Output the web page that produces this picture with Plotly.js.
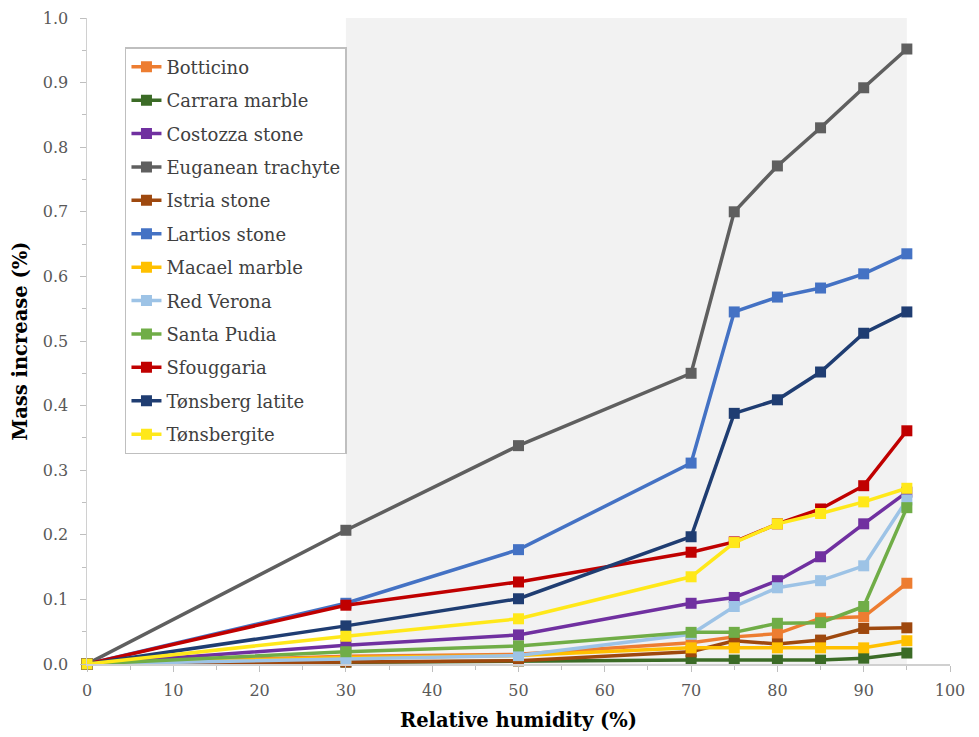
<!DOCTYPE html>
<html>
<head>
<meta charset="utf-8">
<script src="https://cdn.plot.ly/plotly-3.0.1.min.js"></script>
<style>html,body{margin:0;padding:0;background:#fff;}#chart{width:979px;height:737px;}</style>
</head>
<body>
<div id="chart"></div>
<script>
const humidity = [0, 30, 50, 70, 75, 80, 85, 90, 95];

const seriesNames = ["Botticino", "Carrara marble", "Costozza stone", "Euganean trachyte",
  "Istria stone", "Lartios stone", "Macael marble", "Red Verona", "Santa Pudia",
  "Sfouggaria", "Tønsberg latite", "Tønsbergite"];

const botticino  = [0, 0.012, 0.015, 0.033, 0.042, 0.047, 0.071, 0.073, 0.125];
const carrara    = [0, 0.003, 0.005, 0.006, 0.006, 0.006, 0.006, 0.009, 0.017];
const costozza   = [0, 0.029, 0.045, 0.094, 0.103, 0.129, 0.166, 0.217, 0.266];
const euganean   = [0, 0.207, 0.338, 0.450, 0.700, 0.771, 0.830, 0.892, 0.952];
const istria     = [0, 0.003, 0.005, 0.019, 0.036, 0.031, 0.037, 0.055, 0.056];
const lartios    = [0, 0.094, 0.177, 0.311, 0.545, 0.568, 0.582, 0.604, 0.635];
const macael     = [0, 0.010, 0.013, 0.025, 0.025, 0.025, 0.025, 0.025, 0.036];
const redVerona  = [0, 0.007, 0.013, 0.046, 0.089, 0.118, 0.129, 0.152, 0.254];
const santaPudia = [0, 0.019, 0.028, 0.049, 0.049, 0.063, 0.064, 0.089, 0.242];
const sfouggaria = [0, 0.091, 0.127, 0.173, 0.189, 0.217, 0.240, 0.276, 0.361];
const tonsbergLatite = [0, 0.059, 0.101, 0.197, 0.388, 0.409, 0.452, 0.512, 0.545];
const tonsbergite    = [0, 0.043, 0.070, 0.135, 0.188, 0.217, 0.233, 0.251, 0.272];

const seriesValues = [botticino, carrara, costozza, euganean, istria, lartios, macael,
  redVerona, santaPudia, sfouggaria, tonsbergLatite, tonsbergite];

const seriesColors = ["#ED7D31", "#3B6B26", "#7030A0", "#5F5F5F", "#9E480E", "#4472C4",
  "#FFC000", "#9DC3E6", "#70AD47", "#C00000", "#1F3D72", "#FFE81A"];

const xTicks = [0, 10, 20, 30, 40, 50, 60, 70, 80, 90, 100];
const yTicks = [0, 0.1, 0.2, 0.3, 0.4, 0.5, 0.6, 0.7, 0.8, 0.9, 1.0];
const yTickText = ["0.0","0.1","0.2","0.3","0.4","0.5","0.6","0.7","0.8","0.9","1.0"];
const shadeRange = [30, 95];

const traces = seriesNames.map((name, i) => ({
  type: "scatter",
  mode: "lines+markers",
  name: name,
  legendgroup: "g" + i,
  x: humidity,
  y: seriesValues[i],
  cliponaxis: false,
  line: {color: seriesColors[i], width: 3.5},
  marker: {symbol: "square", size: 11, color: seriesColors[i]}
}));

const serif = "DejaVu Serif";

const layout = {
  width: 979, height: 737,
  margin: {l: 87, r: 29, t: 18, b: 73},
  paper_bgcolor: "#ffffff",
  plot_bgcolor: "#ffffff",
  showlegend: true,
  legend: {
    x: 0.044, y: 0.955, xanchor: "left", yanchor: "top",
    bgcolor: "#ffffff", bordercolor: "#bfbfbf", borderwidth: 1.5,
    font: {family: serif, size: 18, color: "#404040"},
    tracegroupgap: 7,
    traceorder: "grouped"
  },
  shapes: [{
    type: "rect", layer: "below", xref: "x", yref: "paper",
    x0: shadeRange[0], x1: shadeRange[1], y0: 0, y1: 1,
    fillcolor: "#f2f2f2", line: {width: 0}
  }],
  xaxis: {
    range: [0, 100],
    tickvals: xTicks,
    ticktext: xTicks.map(String),
    ticks: "outside", ticklen: 6, tickcolor: "#bfbfbf", tickwidth: 1,
    minor: {dtick: 5, tick0: 0, ticks: "outside", ticklen: 4, tickcolor: "#bfbfbf", showgrid: false},
    showgrid: false, zeroline: false,
    showline: true, linecolor: "#d0d0d0", linewidth: 1.5,
    tickfont: {family: serif, size: 16, color: "#595959"},
    ticklabelstandoff: 5,
    title: {text: "<b>Relative humidity (%)</b>", font: {family: serif, size: 19.5, color: "#000000"}, standoff: 14}
  },
  yaxis: {
    range: [0, 1.0],
    tickvals: yTicks,
    ticktext: yTickText,
    ticks: "outside", ticklen: 6, tickcolor: "#bfbfbf", tickwidth: 1,
    minor: {dtick: 0.05, tick0: 0, ticks: "outside", ticklen: 4, tickcolor: "#bfbfbf", showgrid: false},
    showgrid: false, zeroline: false,
    showline: true, linecolor: "#d0d0d0", linewidth: 1.5,
    tickfont: {family: serif, size: 16, color: "#595959"},
    ticklabelstandoff: 8,
    title: {text: "<b>Mass increase (%)</b>", font: {family: serif, size: 19.5, color: "#000000"}, standoff: 10}
  }
};

Plotly.newPlot("chart", traces, layout, {displayModeBar: false, staticPlot: true});
</script>
</body>
</html>
